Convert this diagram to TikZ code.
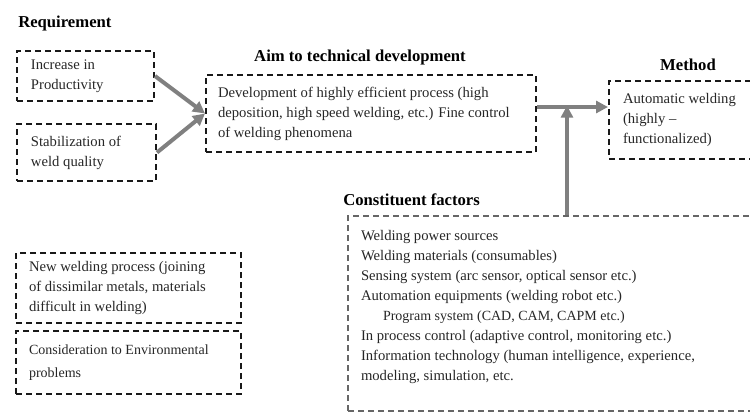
\documentclass[tikz,border=0pt]{standalone}
\usepackage{fontspec}
\setmainfont{Liberation Serif}
\usetikzlibrary{arrows.meta}
\begin{document}
\hyphenpenalty=10000\relax
\exhyphenpenalty=10000\relax
\begin{tikzpicture}[x=0.75pt,y=-0.75pt,
  dbox/.style={draw=black!90, line width=1.5pt, dash pattern=on 4.5pt off 3pt,
    anchor=north west, align=flush left, inner ysep=0pt, text=black!85,
    font=\fontsize{11}{15}\selectfont},
  title/.style={font=\bfseries\fontsize{12.5}{14}\selectfont, text=black, inner sep=0pt},
  garrow/.style={draw=black!50, line width=3pt, -{Triangle[length=9pt,width=9pt]}}
]
\path[use as bounding box, clip] (0,0) rectangle (750,411);

% titles
\node[title, anchor=west] (treq) at (18,23) {Requirement};
\node[title] (taim) at (360,57) {Aim to technical development};
\node[title] (tmeth) at (688,65) {Method};
\node[title, anchor=west] (tcons) at (343,200) {Constituent factors};

% requirement boxes
\node[dbox, minimum width=102.75pt, minimum height=37.5pt, inner xsep=10.5pt, text width=81.75pt]
  (b1) at (16,50) {Increase in\\Productivity};
\node[dbox, minimum width=104.25pt, minimum height=42.75pt, inner xsep=10.5pt, text width=83.25pt]
  (b2) at (16,123) {Stabilization of\\weld quality};

% aim box
\node[dbox, minimum width=247.5pt, minimum height=57.75pt, inner xsep=9pt, text width=229.5pt]
  (aim) at (205,74) {Development of highly efficient process (high\\deposition, high speed welding, etc.) Fine control\\of welding phenomena};

% method box
\node[dbox, minimum width=114pt, minimum height=58.5pt, inner xsep=10.5pt, text width=93pt]
  (meth) at (608,80) {Automatic welding\\(highly --\\functionalized)};

% constituent factors box
\node[dbox, draw=black!60, inner xsep=9.75pt, anchor=north west]
  (cons) at (347,215) {\parbox[c][146.25pt][t]{290.25pt}{\vspace*{10.5pt}%
  Welding power sources\\
  Welding materials (consumables)\\
  Sensing system (arc sensor, optical sensor etc.)\\
  Automation equipments (welding robot etc.)\\
  \hspace*{16.5pt}{\fontsize{10.5}{15}\selectfont Program system (CAD, CAM, CAPM etc.)}\\
  In process control (adaptive control, monitoring etc.)\\
  Information technology (human intelligence, experience,\\
  modeling, simulation, etc.}};

% bottom-left boxes
\node[dbox, minimum width=168.75pt, minimum height=52.5pt, inner xsep=9.75pt, text width=149.25pt]
  (bA) at (15,252) {New welding process (joining\\of dissimilar metals, materials\\difficult in welding)};
\node[dbox, minimum width=168.75pt, minimum height=47.25pt, inner xsep=9.75pt, text width=149.25pt,
  font=\fontsize{10.5}{17}\selectfont]
  (bB) at (15,330) {Consideration to Environmental\\problems};

% connectors
\coordinate (j) at (567,107);
\draw[garrow] (b1.east) -- (aim.west);
\draw[garrow] (b2.east) -- (aim.west);
\draw[garrow] (aim.east |- j) -- (meth.west |- j);
\draw[garrow, shorten >=-1pt] (cons.north -| j) -- (j);
\end{tikzpicture}
\end{document}
